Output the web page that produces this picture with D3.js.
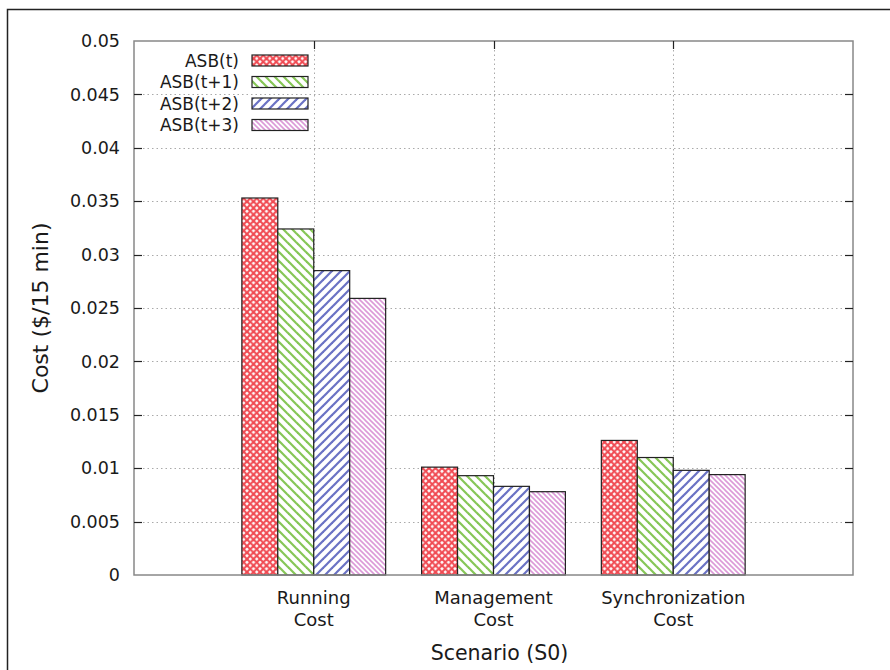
<!DOCTYPE html>
<html>
<head>
<meta charset="utf-8">
<script src="https://cdn.jsdelivr.net/npm/d3@7"></script>
<style>
  html, body { margin: 0; padding: 0; background: #fff; }
  svg { display: block; font-family: "DejaVu Sans", sans-serif; }
</style>
</head>
<body>
<svg id="chart" width="890" height="670"></svg>
<script>
// Cost components per scenario
const categories = [["Running", "Cost"], ["Management", "Cost"], ["Synchronization", "Cost"]];
const seriesNames = ["ASB(t)", "ASB(t+1)", "ASB(t+2)", "ASB(t+3)"];
const asbT  = [0.0353, 0.0101, 0.0126];
const asbT1 = [0.0324, 0.0093, 0.0110];
const asbT2 = [0.0285, 0.0083, 0.0098];
const asbT3 = [0.0259, 0.0078, 0.0094];
const seriesValues = [asbT, asbT1, asbT2, asbT3];
const yTicks = [0, 0.005, 0.01, 0.015, 0.02, 0.025, 0.03, 0.035, 0.04, 0.045, 0.05];

const svg = d3.select("#chart");
const m = { left: 134, top: 41, right: 853, bottom: 575 };

// outer frame
svg.append("rect").attr("x", 7.5).attr("y", 9.5).attr("width", 900).attr("height", 700)
  .attr("fill", "none").attr("stroke", "#222").attr("stroke-width", 1.5);

// hatch patterns
const defs = svg.append("defs");
function hatch(id, color, spacing, width, dir, cross) {
  const p = defs.append("pattern").attr("id", id).attr("patternUnits", "userSpaceOnUse")
    .attr("width", spacing).attr("height", spacing);
  p.append("rect").attr("width", spacing).attr("height", spacing).attr("fill", "#fff");
  const s = spacing;
  const lines = [];
  if (dir === "down" || cross) lines.push([[-s, 0], [s, 2 * s]], [[0, -s], [2 * s, s]], [[0, 0], [s, s]]);
  if (dir === "up" || cross) lines.push([[-s, s], [s, -s]], [[0, 2 * s], [2 * s, 0]], [[0, s], [s, 0]]);
  lines.forEach(l => p.append("line")
    .attr("x1", l[0][0]).attr("y1", l[0][1]).attr("x2", l[1][0]).attr("y2", l[1][1])
    .attr("stroke", color).attr("stroke-width", width));
}
hatch("pT", "#f04a52", 6.5, 2.1, null, true);
hatch("pT1", "#86c656", 9, 2.2, "down", false);
hatch("pT2", "#6a72c4", 9, 2.2, "up", false);
hatch("pT3", "#dc9ad8", 5, 1.6, "down", false);
const fills = ["url(#pT)", "url(#pT1)", "url(#pT2)", "url(#pT3)"];

const x = d3.scaleLinear().domain([0, 4]).range([m.left, m.right]);
const y = d3.scaleLinear().domain([0, 0.05]).range([m.bottom, m.top]);
const barW = 0.2;

// grid
const grid = svg.append("g").attr("stroke", "#aaa").attr("stroke-width", 1).attr("stroke-dasharray", "1.5,3");
yTicks.slice(1, -1).forEach(t => grid.append("line")
  .attr("x1", m.left).attr("x2", m.right).attr("y1", Math.round(y(t)) + 0.5).attr("y2", Math.round(y(t)) + 0.5));
categories.forEach((c, i) => grid.append("line")
  .attr("x1", Math.round(x(i + 1)) + 0.5).attr("x2", Math.round(x(i + 1)) + 0.5).attr("y1", m.top).attr("y2", m.bottom));

// bars
seriesValues.forEach((vals, s) => {
  svg.append("g").selectAll("rect").data(vals).join("rect")
    .attr("x", (d, i) => x(i + 1 - 2 * barW + s * barW))
    .attr("width", x(barW) - x(0))
    .attr("y", d => y(d))
    .attr("height", d => y(0) - y(d))
    .attr("fill", fills[s])
    .attr("stroke", "#222").attr("stroke-width", 1.2);
});

// plot border
svg.append("rect").attr("x", m.left).attr("y", m.top)
  .attr("width", m.right - m.left).attr("height", m.bottom - m.top)
  .attr("fill", "none").attr("stroke", "#888").attr("stroke-width", 1.5);

// y axis
const yAxis = d3.axisLeft(y).tickValues(yTicks).tickSize(0).tickPadding(14)
  .tickFormat(d => d === 0 ? "0" : d3.format("")(+d.toFixed(3)));
const ya = svg.append("g").attr("transform", `translate(${m.left},0)`).call(yAxis);
ya.select(".domain").remove();
ya.selectAll("text").attr("font-size", 17.5).attr("fill", "#1a1a1a").attr("font-family", "DejaVu Sans");
// inward tick marks, left and right
const tk = svg.append("g").attr("stroke", "#222").attr("stroke-width", 1.2);
yTicks.slice(1, -1).forEach(t => {
  const yy = Math.round(y(t)) + 0.5;
  tk.append("line").attr("x1", m.left).attr("x2", m.left + 8).attr("y1", yy).attr("y2", yy);
  tk.append("line").attr("x1", m.right - 8).attr("x2", m.right).attr("y1", yy).attr("y2", yy);
});
categories.forEach((c, i) => {
  const xx = Math.round(x(i + 1)) + 0.5;
  tk.append("line").attr("x1", xx).attr("x2", xx).attr("y1", m.top).attr("y2", m.top + 8);
});

// category labels
const cl = svg.append("g").attr("font-size", 18).attr("fill", "#1a1a1a").attr("text-anchor", "middle");
categories.forEach((c, i) => {
  c.forEach((line, k) => cl.append("text").attr("x", x(i + 1)).attr("y", 604 + k * 22).text(line));
});

// axis titles
svg.append("text").attr("x", (m.left + m.right) / 2 + 6).attr("y", 660).attr("text-anchor", "middle")
  .attr("font-size", 20.5).attr("fill", "#1a1a1a").text("Scenario (S0)");
svg.append("text").attr("transform", `translate(48,${(m.top + m.bottom) / 2}) rotate(-90)`)
  .attr("text-anchor", "middle").attr("font-size", 22).attr("fill", "#1a1a1a").text("Cost ($/15 min)");

// legend
const lg = svg.append("g");
seriesNames.forEach((n, i) => {
  const cy = 60.5 + i * 21.5;
  lg.append("text").attr("x", 239).attr("y", cy + 6).attr("text-anchor", "end")
    .attr("font-size", 17).attr("fill", "#1a1a1a").text(n);
  lg.append("rect").attr("x", 252).attr("y", cy - 5.5).attr("width", 56).attr("height", 11)
    .attr("fill", fills[i]).attr("stroke", "#222").attr("stroke-width", 1.2);
});
</script>
</body>
</html>
